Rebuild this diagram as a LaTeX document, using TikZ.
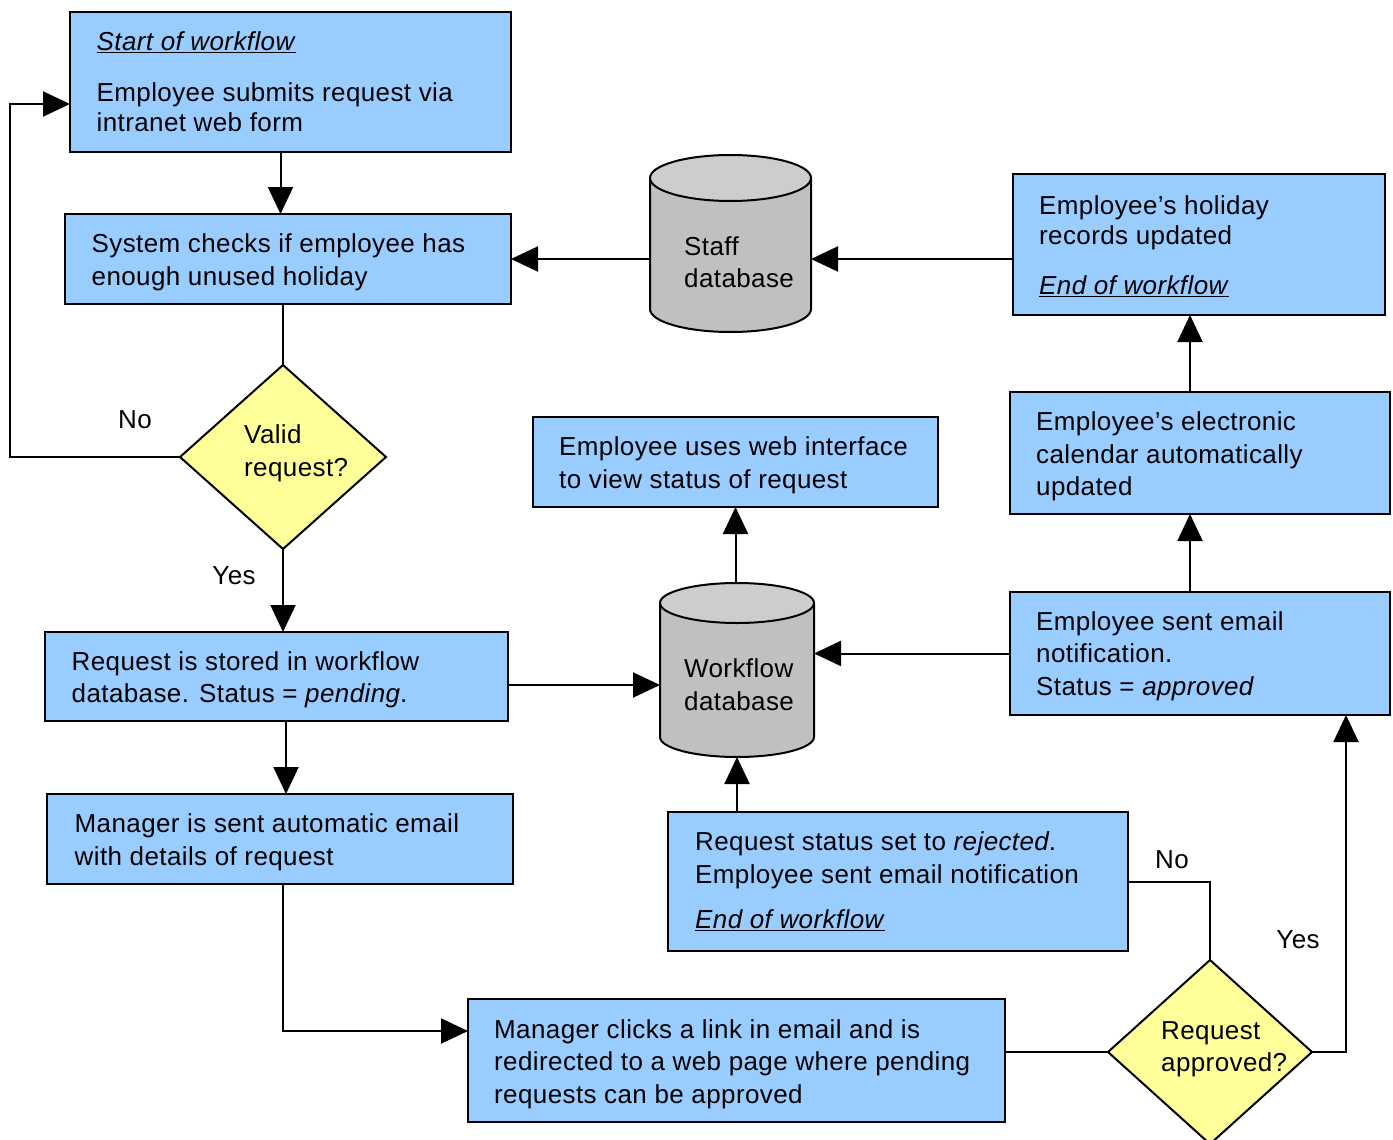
\documentclass[tikz,border=0pt]{standalone}
\usepackage{fontspec}
\setmainfont[LetterSpace=1.5]{Liberation Sans}
\usetikzlibrary{shapes.geometric,arrows.meta}
\definecolor{boxblue}{HTML}{99CCFF}
\definecolor{diayellow}{HTML}{FFFF99}
\definecolor{cylbody}{HTML}{C0C0C0}
\definecolor{cyltop}{HTML}{CDCDCD}
\begin{document}
\begin{tikzpicture}[x=1pt,y=-1pt,
  box/.style={draw=black, line width=2pt, fill=boxblue, inner sep=0pt, outer sep=0pt},
  dia/.style={diamond, draw=black, line width=2pt, fill=diayellow, inner sep=0pt, outer sep=0pt},
  txt/.style={align=left, inner sep=0pt, font=\fontsize{26}{32.5}\selectfont},
  btxt/.style={txt, anchor=west, yshift=-3.5pt},
  cyl/.style={draw=black, line width=2pt},
  conn/.style={line width=2pt},
  arr/.style={line width=2pt, -{Triangle[length=27pt,width=25pt]}}]
\fill[white] (0,0) rectangle (1393,1140);
\useasboundingbox (0,0) rectangle (1393,1140);

% boxes
\node[box, minimum width=441pt, minimum height=140pt] (b1) at (290.5,82) {};
\node[box, minimum width=446pt, minimum height=90pt] (b2) at (288,259) {};
\node[box, minimum width=463pt, minimum height=89pt] (b3) at (276.5,676.5) {};
\node[box, minimum width=466pt, minimum height=90pt] (b4) at (280,839) {};
\node[box, minimum width=537pt, minimum height=123pt] (b5) at (736.5,1060.5) {};
\node[box, minimum width=460pt, minimum height=139pt] (b6) at (898,881.5) {};
\node[box, minimum width=380pt, minimum height=123pt] (b7) at (1200,653.5) {};
\node[box, minimum width=380pt, minimum height=122pt] (b8) at (1200,453) {};
\node[box, minimum width=372pt, minimum height=141pt] (b9) at (1199,244.5) {};
\node[box, minimum width=405pt, minimum height=90pt] (b10) at (735.5,462) {};

% box texts
\node[btxt, yshift=3.5pt, font=\fontsize{26}{30}\selectfont] (t1) at ([xshift=26.5pt]b1.west) {\underline{\textit{Start of workflow}}\\[21pt]Employee submits request via\\intranet web form};
\node[btxt] (t2) at ([xshift=26.5pt]b2.west) {System checks if employee has\\enough unused holiday};
\node[btxt] (t3) at ([xshift=26.5pt]b3.west) {Request is stored in workflow\\database. Status = \textit{pending}.};
\node[btxt] (t4) at ([xshift=27.5pt]b4.west) {Manager is sent automatic email\\with details of request};
\node[btxt] (t5) at ([xshift=26pt]b5.west) {Manager clicks a link in email and is\\redirected to a web page where pending\\requests can be approved};
\node[btxt, yshift=3.5pt] (t6) at ([xshift=27pt]b6.west) {Request status set to \textit{rejected}.\\Employee sent email notification\\[13pt]\underline{\textit{End of workflow}}};
\node[btxt, yshift=1pt] (t7) at ([xshift=26pt]b7.west) {Employee sent email\\notification.\\Status = \textit{approved}};
\node[btxt] (t8) at ([xshift=26pt]b8.west) {Employee’s electronic\\calendar automatically\\updated};
\node[btxt, yshift=2pt, font=\fontsize{26}{30}\selectfont] (t9) at ([xshift=26pt]b9.west) {Employee’s holiday\\records updated\\[20pt]\underline{\textit{End of workflow}}};
\node[btxt] (t10) at ([xshift=26pt]b10.west) {Employee uses web interface\\to view status of request};

% diamonds
\node[dia, minimum width=206pt, minimum height=184pt] (d1) at (283,457) {};
\node[txt, anchor=west] (dt1) at (244,453.5) {Valid\\request?};
\node[dia, minimum width=204pt, minimum height=184pt] (d2) at (1210,1052) {};
\node[txt, anchor=west] (dt2) at (1161,1049) {Request\\approved?};

% staff database cylinder
\node[inner sep=0pt, outer sep=0pt, minimum width=161pt, minimum height=177pt] (sdb) at (730.5,243.5) {};
\draw[cyl, fill=cylbody] (650,178) -- (650,309) arc[start angle=180, end angle=0, x radius=80.5, y radius=23] -- (811,178);
\draw[cyl, fill=cyltop] (730.5,178) ellipse[x radius=80.5, y radius=23];
\node[txt, anchor=west] (st) at (684,262) {Staff\\database};

% workflow database cylinder
\node[inner sep=0pt, outer sep=0pt, minimum width=154pt, minimum height=174pt] (wdb) at (737,670) {};
\draw[cyl, fill=cylbody] (660,603) -- (660,737) arc[start angle=180, end angle=0, x radius=77, y radius=20] -- (814,603);
\draw[cyl, fill=cyltop] (737,603) ellipse[x radius=77, y radius=20];
\node[txt, anchor=west] (wt) at (684,684.5) {Workflow\\database};

% labels
\node[txt] (no1) at (135,420) {No};
\node[txt] (yes1) at (234,576) {Yes};
\node[txt] (no2) at (1172,860) {No};
\node[txt] (yes2) at (1298,940) {Yes};

% helper coordinates
\coordinate (lp) at (10,457);
\coordinate (yc) at (1346,1052);

% connectors
\draw[arr] ([xshift=-10pt]b1.south) -- ([xshift=-10pt]b1.south |- b2.north);
\draw[arr] (b9.west |- b2.east) -- (sdb.east |- b2.east);
\draw[arr] (sdb.west |- b2.east) -- (b2.east);
\draw[conn] (d1.north |- b2.south) -- (d1.north);
\draw[arr] (d1.west) -- (lp) |- ([yshift=-22pt]b1.west);
\draw[arr] (d1.south) -- (d1.south |- b3.north);
\draw[arr] ([yshift=-8.5pt]b3.east) -- ([yshift=-8.5pt]b3.east -| wdb.west);
\draw[arr] ([xshift=6pt]b4.north |- b3.south) -- ([xshift=6pt]b4.north);
\draw[arr] ([xshift=3pt]b4.south) |- ([yshift=29.5pt]b5.west);
\draw[conn] (b5.east |- d2.west) -- (d2.west);
\draw[conn] (d2.north) |- (b6.east);
\draw[arr] (b6.north -| wdb.south) -- (wdb.south);
\draw[arr] (d2.east) -- (yc) -- (yc |- b7.south);
\draw[arr] (b7.west) -- (b7.west -| wdb.east);
\draw[arr] ([xshift=-10pt]b7.north) -- ([xshift=-10pt]b8.south);
\draw[arr] ([xshift=-10pt]b8.north) -- ([xshift=-9pt]b9.south);
\draw[arr] (wdb.north -| b10.south) -- (b10.south);
\end{tikzpicture}
\end{document}
